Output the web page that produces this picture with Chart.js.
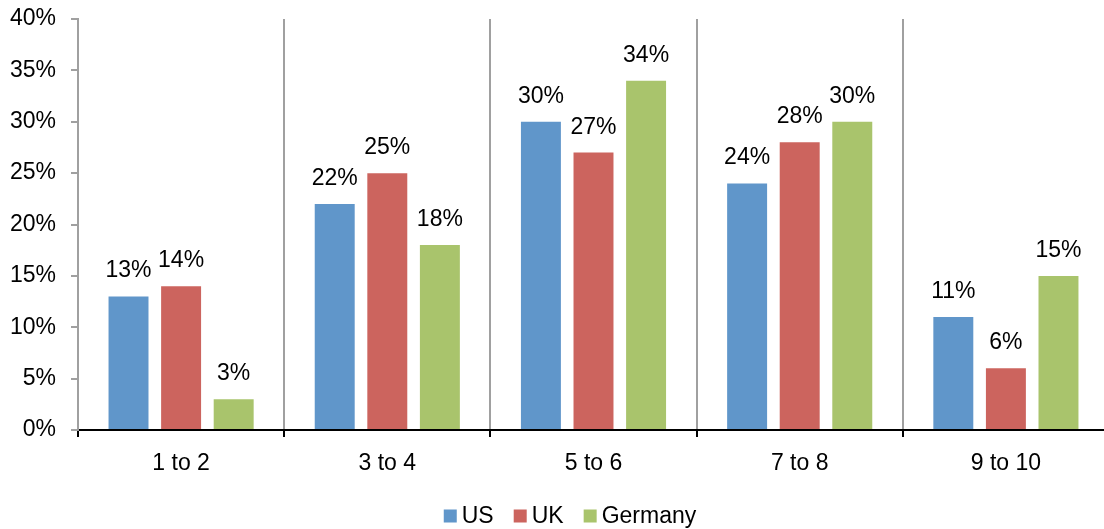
<!DOCTYPE html>
<html>
<head>
<meta charset="utf-8">
<script src="https://cdn.jsdelivr.net/npm/chart.js@4"></script>
<style>
  html, body { margin: 0; padding: 0; background: #fff; overflow: hidden; }
  #wrap { width: 1112px; height: 529px; }
</style>
</head>
<body>
<div id="wrap"><canvas id="chart"></canvas></div>
<script>
const categories = ['1 to 2', '3 to 4', '5 to 6', '7 to 8', '9 to 10'];
const usValues = [13, 22, 30, 24, 11];
const ukValues = [14, 25, 27, 28, 6];
const germanyValues = [3, 18, 34, 30, 15];
const yTicks = [0, 5, 10, 15, 20, 25, 30, 35, 40];

const FONT = "'Liberation Sans', Arial, sans-serif";
const SIZE = 23;

// Percentage labels above each bar
const barLabels = {
  id: 'barLabels',
  afterDatasetsDraw(chart) {
    const ctx = chart.ctx;
    ctx.save();
    ctx.font = SIZE + 'px ' + FONT;
    ctx.fillStyle = '#000';
    ctx.textAlign = 'center';
    ctx.textBaseline = 'alphabetic';
    chart.data.datasets.forEach((ds, i) => {
      chart.getDatasetMeta(i).data.forEach((bar, j) => {
        ctx.fillText(ds.data[j] + '%', bar.x, bar.y - 19);
      });
    });
    ctx.restore();
  }
};

// Compact legend row under the axis: small square, short gap, name
const bottomLegend = {
  id: 'bottomLegend',
  afterDraw(chart) {
    const ctx = chart.ctx;
    const box = 13, gap = 5, spacing = 20;
    const cx = 570, cy = 516;
    ctx.save();
    ctx.font = SIZE + 'px ' + FONT;
    ctx.textBaseline = 'middle';
    ctx.textAlign = 'left';
    const items = chart.data.datasets.map(ds => ({
      text: ds.label, color: ds.backgroundColor, w: ctx.measureText(ds.label).width
    }));
    const total = items.reduce((s, it) => s + box + gap + it.w, 0) + spacing * (items.length - 1);
    let x = cx - total / 2;
    items.forEach(it => {
      ctx.fillStyle = it.color;
      ctx.fillRect(x, cy - box / 2, box, box);
      ctx.fillStyle = '#000';
      ctx.fillText(it.text, x + box + gap, cy + 1);
      x += box + gap + it.w + spacing;
    });
    ctx.restore();
  }
};

new Chart(document.getElementById('chart'), {
  type: 'bar',
  data: {
    labels: categories,
    datasets: [
      { label: 'US', data: usValues, backgroundColor: '#6096CA' },
      { label: 'UK', data: ukValues, backgroundColor: '#CC645E' },
      { label: 'Germany', data: germanyValues, backgroundColor: '#A9C46C' }
    ]
  },
  options: {
    responsive: true,
    maintainAspectRatio: false,
    animation: false,
    categoryPercentage: 0.765,
    barPercentage: 0.76,
    layout: { padding: { top: 19, right: 3, left: 0, bottom: 51 } },
    plugins: {
      tooltip: { enabled: false },
      legend: { display: false }
    },
    scales: {
      x: {
        offset: true,
        grid: {
          offset: true,
          color: '#A0A0A0',
          lineWidth: 2,
          tickColor: '#000',
          tickLength: 7,
          drawOnChartArea: true
        },
        border: { color: '#000', width: 2 },
        ticks: {
          color: '#000',
          padding: 13,
          font: { family: FONT, size: SIZE }
        },
        afterFit(scale) { scale.height = 48; }
      },
      y: {
        min: 0,
        max: 40,
        afterBuildTicks(scale) {
          scale.ticks = yTicks.map(v => ({ value: v }));
        },
        grid: {
          drawOnChartArea: false,
          color: '#A0A0A0',
          tickColor: '#A0A0A0',
          tickLength: 7,
          lineWidth: 2
        },
        border: { color: '#A0A0A0', width: 2 },
        ticks: {
          color: '#000',
          padding: 15,
          font: { family: FONT, size: SIZE },
          callback: v => v + '%'
        },
        afterFit(scale) {
          scale.width = 78;
          scale.paddingTop = 0;
          scale.paddingBottom = 0;
        }
      }
    }
  },
  plugins: [barLabels, bottomLegend]
});
</script>
</body>
</html>
